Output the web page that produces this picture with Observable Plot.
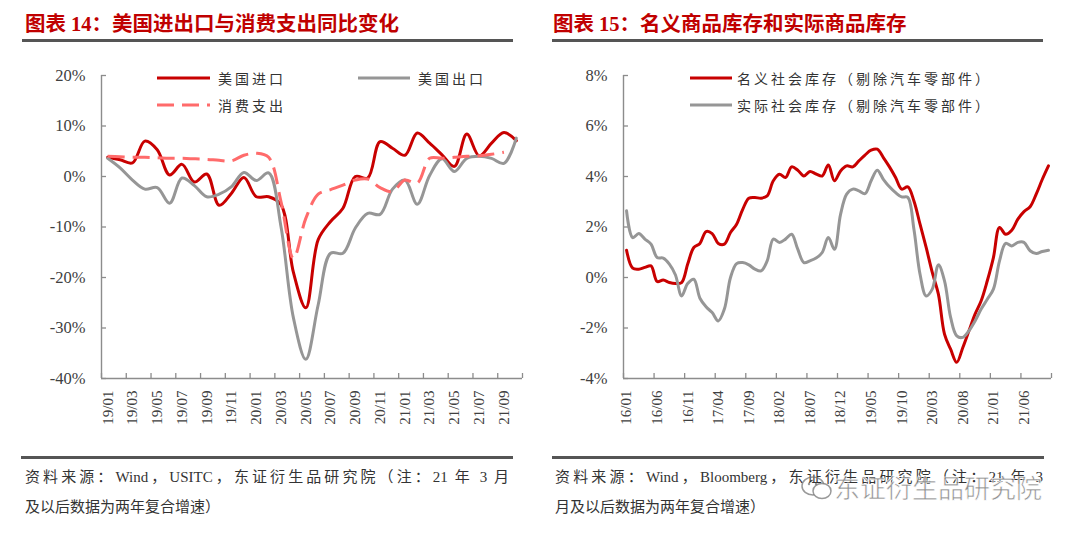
<!DOCTYPE html>
<html><head><meta charset="utf-8">
<script src="https://cdn.jsdelivr.net/npm/d3@7"></script>
<script src="https://cdn.jsdelivr.net/npm/@observablehq/plot@0.6"></script>
<style>
body{margin:0;background:#fff;}
#page{position:relative;width:1080px;height:534px;overflow:hidden;font-family:"Liberation Serif","Noto Sans CJK SC",serif;}
.title{position:absolute;top:10px;font-size:20.5px;font-weight:bold;color:#c00000;white-space:nowrap;line-height:28px;font-family:"Liberation Serif","Noto Sans CJK SC",serif;}
.rule{position:absolute;height:3px;background:#555;}
.chart{position:absolute;top:60px;}
.legend{position:absolute;font-size:14px;letter-spacing:3px;color:#333;white-space:nowrap;display:flex;align-items:center;height:20px;font-family:"Noto Sans CJK SC",sans-serif;}
.legend svg{display:block;}
.foot{position:absolute;font-size:15px;color:#333;white-space:nowrap;line-height:20px;}
.just{text-align:justify;text-align-last:justify;white-space:normal;}
.wm{position:absolute;left:834px;top:472px;font-size:26px;color:rgba(110,110,110,0.75);font-family:"Noto Sans CJK SC",sans-serif;white-space:nowrap;-webkit-text-stroke:0.6px #fff;line-height:30px;}
</style></head>
<body><div id="page">
<div class="title" style="left:25px">图表 14：美国进出口与消费支出同比变化</div>
<div class="rule" style="left:22px;width:491px;top:39px"></div>
<div class="title" style="left:553px">图表 15：名义商品库存和实际商品库存</div>
<div class="rule" style="left:552px;width:491px;top:39px"></div>
<div class="chart" id="left" style="left:0px"></div>
<div class="chart" id="right" style="left:540px"></div>
<div id="legends"></div>
<div class="rule" style="left:21px;width:492px;top:456px;height:2.5px"></div>
<div class="rule" style="left:552px;width:492px;top:456px;height:2.5px"></div>
<div class="foot just" style="left:25px;top:467px;width:484px">资料来源：Wind，USITC，东证衍生品研究院（注：21 年 3 月</div>
<div class="foot" style="left:25px;top:497px">及以后数据为两年复合增速）</div>
<div class="foot just" style="left:555px;top:467px;width:488px">资料来源：Wind，Bloomberg，东证衍生品研究院（注：21 年 3</div>
<div class="foot" style="left:555px;top:497px">月及以后数据为两年复合增速）</div>
<svg style="position:absolute;left:800px;top:474px" width="34" height="28" viewBox="0 0 34 28"><ellipse cx="13" cy="12" rx="11" ry="9" fill="none" stroke="rgba(110,110,110,0.7)" stroke-width="1.5"/><ellipse cx="22" cy="17" rx="9" ry="7.5" fill="#fff" stroke="rgba(110,110,110,0.7)" stroke-width="1.5"/><circle cx="9" cy="10" r="1.2" fill="rgba(110,110,110,0.7)"/><circle cx="16" cy="10" r="1.2" fill="rgba(110,110,110,0.7)"/></svg>
<div class="wm">东证衍生品研究院</div>
</div>
<script>
// ---------- Chart 14 data ----------
const monthsA = ["19/01","19/02","19/03","19/04","19/05","19/06","19/07","19/08","19/09","19/10","19/11","19/12",
  "20/01","20/02","20/03","20/04","20/05","20/06","20/07","20/08","20/09","20/10","20/11","20/12",
  "21/01","21/02","21/03","21/04","21/05","21/06","21/07","21/08","21/09","21/10"];
const tickLabelsA = ["19/01","19/03","19/05","19/07","19/09","19/11","20/01","20/03","20/05","20/07","20/09","20/11","21/01","21/03","21/05","21/07","21/09"];
const usImports = [3.8,3.3,2.7,7.0,5.3,0.3,2.4,-1.1,0.5,-5.7,-3.3,-0.2,-4.0,-4.0,-5.6,-19.0,-26.0,-12.5,-8.9,-6.3,0.0,-0.3,6.9,5.6,4.2,8.6,6.6,4.3,2.0,8.4,4.1,6.6,8.7,7.1];
const usExports = [3.6,1.7,-0.7,-2.5,-2.2,-5.3,-0.3,-1.8,-4.0,-3.5,-2.0,0.8,-0.8,0.7,-10.0,-28.0,-36.2,-25.4,-15.2,-15.2,-10.2,-7.3,-7.5,-2.5,-0.7,-5.5,0.2,3.5,1.0,3.6,4.0,3.6,2.6,7.6];
const consumption = [4.0,3.9,3.8,3.8,3.7,3.6,3.6,3.5,3.4,3.2,3.1,4.2,4.6,3.8,-5.0,-16.2,-8.3,-3.5,-2.6,-1.7,-0.7,-0.5,-2.2,-3.0,-0.7,-1.3,3.6,3.6,3.8,4.0,4.1,4.4,4.8];
const yTicksA = [-40,-30,-20,-10,0,10,20];

// ---------- Chart 15 data ----------
const monthsB = ["16/01","16/02","16/03","16/04","16/05","16/06","16/07","16/08","16/09","16/10","16/11","16/12",
  "17/01","17/02","17/03","17/04","17/05","17/06","17/07","17/08","17/09","17/10","17/11","17/12",
  "18/01","18/02","18/03","18/04","18/05","18/06","18/07","18/08","18/09","18/10","18/11","18/12",
  "19/01","19/02","19/03","19/04","19/05","19/06","19/07","19/08","19/09","19/10","19/11","19/12",
  "20/01","20/02","20/03","20/04","20/05","20/06","20/07","20/08","20/09","20/10","20/11","20/12",
  "21/01","21/02","21/03","21/04","21/05","21/06","21/07","21/08","21/09","21/10"];
const tickLabelsB = ["16/01","16/06","16/11","17/04","17/09","18/02","18/07","18/12","19/05","19/10","20/03","20/08","21/01","21/06"];
const nominalInv = [1.08,0.37,0.33,0.40,0.46,-0.16,-0.10,-0.20,-0.24,-0.20,0.53,1.19,1.35,1.82,1.74,1.35,1.32,1.78,2.11,2.70,3.14,3.17,3.14,3.23,3.83,4.09,3.96,4.38,4.25,4.02,4.20,4.10,4.02,4.46,3.83,4.22,4.42,4.38,4.62,4.85,5.04,5.08,4.75,4.38,3.96,3.50,3.59,3.03,2.11,1.19,0.20,-0.66,-2.24,-2.84,-3.36,-2.77,-2.11,-1.45,-0.92,-0.13,0.79,1.98,1.71,1.87,2.31,2.61,2.80,3.30,3.89,4.42];
const realInv = [2.64,1.58,1.74,1.52,1.32,0.79,0.77,0.53,0.10,-0.73,-0.24,-0.07,-0.82,-1.16,-1.39,-1.72,-1.25,0.00,0.55,0.59,0.50,0.33,0.26,0.66,1.52,1.39,1.52,1.71,1.12,0.59,0.66,0.77,0.99,1.58,1.12,2.50,3.30,3.50,3.43,3.32,3.83,4.25,3.89,3.59,3.36,3.19,3.17,1.91,0.13,-0.73,-0.46,0.50,-0.13,-1.58,-2.31,-2.37,-2.11,-1.72,-1.25,-0.86,-0.46,0.66,1.35,1.25,1.39,1.39,1.06,0.95,1.03,1.08];
const yTicksB = [-4,-2,0,2,4,6,8];

const RED = "#c80000", GRAY = "#969696", PINK = "#ff6b6b", AXIS = "#8c8c8c";

function makeChart({months, tickLabels, tickEvery, series, yDomain, yTicks, marginLeft, marginRight}) {
  const n = months.length;
  const boundaries = d3.range(-0.5, n, tickEvery);
  if (boundaries[boundaries.length - 1] !== n - 0.5) boundaries.push(n - 0.5);
  const labelPos = tickLabels.map(l => months.indexOf(l));
  const marks = [
    Plot.axisY({ticks: yTicks, tickSize: 0, tickPadding: 16, tickFormat: d => d + "%", fontSize: 16.5, label: null}),
    Plot.axisY({ticks: yTicks, tickSize: -5, tickFormat: () => "", stroke: AXIS, strokeWidth: 1.3, label: null}),
    Plot.axisX({ticks: boundaries, tickSize: -5, tickFormat: () => "", stroke: AXIS, strokeWidth: 1.3, label: null}),
    Plot.axisX({ticks: labelPos, tickSize: 0, tickRotate: -90, tickPadding: 12, tickFormat: i => months[i], fontSize: 15, label: null}),
    Plot.ruleX([-0.5], {stroke: AXIS, strokeWidth: 1.4}),
    Plot.ruleY([yDomain[0]], {stroke: AXIS, strokeWidth: 1.4})
  ];
  for (const s of series) {
    const data = s.values.map((v, i) => ({i, v}));
    marks.push(Plot.line(data, {x: "i", y: "v", stroke: s.color, strokeWidth: 3, curve: "catmull-rom",
      strokeDasharray: s.dash || null, strokeLinecap: s.dash ? "butt" : "round"}));
  }
  return Plot.plot({
    width: 540, height: 380, marginTop: 15, marginBottom: 62, marginLeft, marginRight,
    x: {type: "linear", domain: [-0.5, n - 0.5], label: null},
    y: {domain: yDomain, label: null},
    style: {fontFamily: "'Liberation Serif', serif", color: "#404040", background: "transparent", overflow: "visible"},
    marks
  });
}

document.getElementById("left").append(makeChart({
  months: monthsA, tickLabels: tickLabelsA, tickEvery: 2,
  series: [{values: usImports, color: RED}, {values: usExports, color: GRAY}, {values: consumption, color: PINK, dash: "17,8"}],
  yDomain: [-40, 20], yTicks: yTicksA, marginLeft: 101, marginRight: 18
}));
document.getElementById("right").append(makeChart({
  months: monthsB, tickLabels: tickLabelsB, tickEvery: 5,
  series: [{values: nominalInv, color: RED}, {values: realInv, color: GRAY}],
  yDomain: [-4, 8], yTicks: yTicksB, marginLeft: 83, marginRight: 29
}));

// ---------- legends ----------
const legendItems = [
  {label: "美国进口", color: RED, x: 157, y: 78, w: 53, gap: 8},
  {label: "美国出口", color: GRAY, x: 358, y: 78, w: 52, gap: 8},
  {label: "消费支出", color: PINK, x: 157, y: 105, w: 53, gap: 8, dash: "17,8"},
  {label: "名义社会库存（剔除汽车零部件）", color: RED, x: 690, y: 78, w: 42, gap: 5},
  {label: "实际社会库存（剔除汽车零部件）", color: GRAY, x: 690, y: 105, w: 42, gap: 5}
];
const lg = document.getElementById("legends");
for (const it of legendItems) {
  const div = document.createElement("div");
  div.className = "legend";
  div.style.left = it.x + "px";
  div.style.top = (it.y - 10) + "px";
  div.innerHTML = `<svg width="${it.w}" height="8"><line x1="0" y1="4" x2="${it.w}" y2="4" stroke="${it.color}" stroke-width="3" ${it.dash ? `stroke-dasharray="${it.dash}"` : ""}/></svg><span style="margin-left:${it.gap}px">${it.label}</span>`;
  lg.append(div);
}
</script>
</body></html>
